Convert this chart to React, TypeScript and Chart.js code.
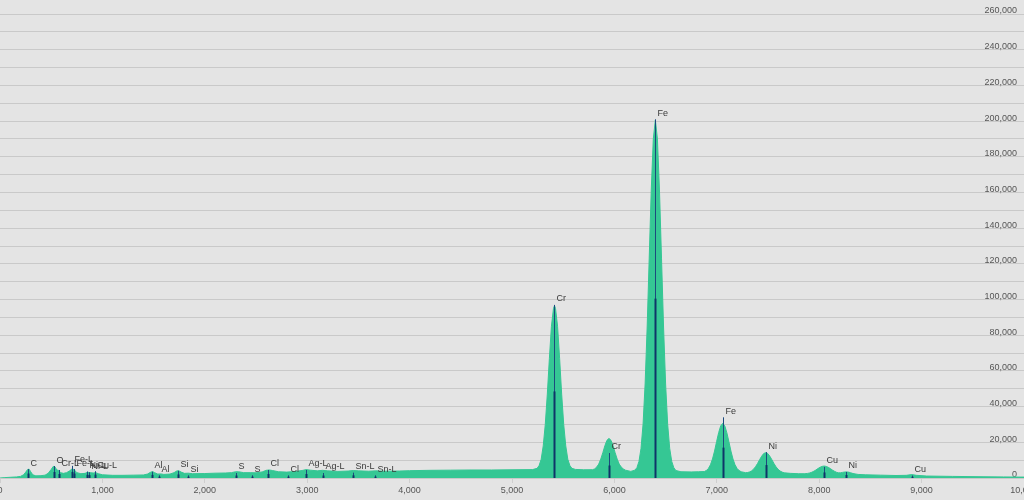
import React, { useEffect, useRef } from "react";
import { Chart, registerables } from "chart.js";

Chart.register(...registerables);

// Spectrum readings: [energy (eV), counts]
const lowEnergySpectrum: [number, number][] = [
  [0, 0], [40, 200], [100, 400], [160, 600], [200, 900], [230, 1800], [250, 3200], [270, 4800],
  [285, 4900], [300, 3500], [320, 1800], [350, 1200], [400, 1300], [440, 1600], [470, 2600],
  [500, 4800], [520, 6500], [535, 6400], [555, 4500], [575, 4200], [590, 3000], [620, 2600],
  [650, 3000], [680, 4000], [705, 5200], [725, 4600], [750, 3000], [790, 2400], [830, 2600],
  [855, 3200], [880, 3000], [910, 2800], [935, 3000], [960, 2400], [1000, 1800], [1100, 1500],
  [1200, 1500], [1300, 1600], [1400, 1700], [1440, 2200], [1470, 3200], [1490, 3600], [1510, 3000],
  [1540, 2200], [1570, 2300], [1600, 2000], [1660, 2200], [1700, 3000], [1725, 3900], [1745, 4100],
  [1770, 3300], [1800, 2600], [1840, 2700], [1880, 2400], [2000, 2500], [2100, 2700], [2200, 2800],
  [2260, 3000], [2300, 3500], [2330, 3500], [2380, 3000], [2450, 3000], [2500, 2900], [2560, 3400],
  [2600, 4300], [2630, 4500], [2660, 4200], [2720, 3500], [2800, 3300], [2880, 3600], [2950, 4200],
  [2990, 4700], [3030, 4400], [3100, 4000], [3150, 4300], [3200, 4000], [3300, 3700], [3400, 3900],
  [3450, 4200], [3500, 4000], [3600, 3800], [3670, 4000], [3750, 3800], [3900, 3900], [4000, 4100],
  [4200, 4300], [4400, 4400], [4600, 4500], [4800, 4500], [5000, 4600], [5200, 4700],
];

const crSpectrum: [number, number][] = [
  [5245, 5400], [5265, 7000], [5285, 10500], [5305, 18000], [5325, 30000], [5345, 47000],
  [5365, 67000], [5385, 85000], [5405, 95000], [5415, 96600], [5425, 95000], [5445, 85000],
  [5465, 67000], [5485, 47000], [5505, 30000], [5525, 18000], [5545, 10500], [5565, 7000],
  [5585, 5400], [5620, 4800], [5700, 4600], [5787, 4650], [5807, 5100], [5827, 6100],
  [5847, 7800], [5867, 10600], [5887, 14200], [5907, 18100], [5927, 21100], [5947, 22200],
  [5967, 21100], [5987, 18100], [6007, 14200], [6027, 10600], [6047, 7800], [6067, 6100],
  [6087, 5100], [6107, 4400], [6160, 3700],
];

const feSpectrum: [number, number][] = [
  [6200, 4400], [6220, 5800], [6240, 9300], [6260, 16600], [6280, 30200], [6300, 52700],
  [6320, 84600], [6340, 123200], [6360, 161400], [6380, 190000], [6400, 200600], [6420, 190000],
  [6440, 161400], [6460, 123200], [6480, 84600], [6500, 52700], [6520, 30200], [6540, 16600],
  [6560, 9300], [6580, 5800], [6600, 4200], [6650, 3500], [6750, 3400], [6820, 3500],
  [6878, 3600], [6898, 4200], [6918, 5350], [6938, 7400], [6958, 10650], [6978, 15100],
  [6998, 20400], [7018, 25400], [7038, 29200], [7058, 30600], [7078, 29200], [7098, 25400],
  [7118, 20400], [7138, 15100], [7158, 10650], [7178, 7400], [7198, 5350], [7218, 4200],
  [7238, 3500], [7280, 3000],
];

const highEnergySpectrum: [number, number][] = [
  [7298, 3050], [7318, 3350], [7338, 3920], [7358, 4880], [7378, 6300], [7398, 8150],
  [7418, 10250], [7438, 12200], [7458, 13700], [7478, 14200], [7498, 13700], [7518, 12200],
  [7538, 10250], [7558, 8150], [7578, 6300], [7598, 4880], [7618, 3920], [7638, 3300],
  [7658, 2900], [7720, 2600], [7800, 2400], [7860, 2400], [7888, 2580], [7908, 2830],
  [7928, 3230], [7948, 3800], [7968, 4500], [7988, 5300], [8008, 6000], [8028, 6500],
  [8048, 6700], [8068, 6500], [8088, 6000], [8108, 5300], [8128, 4500], [8148, 3800],
  [8168, 3230], [8188, 2900], [8208, 2900], [8228, 3150], [8248, 3350], [8265, 3400],
  [8285, 3300], [8305, 3000], [8330, 2500], [8380, 2000], [8450, 1800], [8600, 1600],
  [8750, 1400], [8850, 1500], [8905, 1900], [8950, 1500], [9050, 1100], [9300, 900],
  [9600, 700], [9800, 600], [10000, 500],
];

// Element line markers
const markerLabels = [
  "C", "O", "Cr-L", "Fe-L", "Fe-L", "Ni-L", "Ni-L", "Cu-L",
  "Al", "Al", "Si", "Si", "S", "S", "Cl", "Cl", "Ag-L", "Ag-L", "Sn-L", "Sn-L",
  "Cr", "Cr", "Fe", "Fe", "Ni", "Cu", "Ni", "Cu",
];
const markerEnergies = [
  277, 525, 573, 705, 718, 851, 868, 930,
  1487, 1557, 1740, 1836, 2307, 2464, 2622, 2815, 2984, 3151, 3444, 3663,
  5415, 5947, 6400, 7058, 7478, 8048, 8265, 8905,
];
const markerHeights = [
  5000, 6700, 4500, 6800, 5000, 3600, 3200, 3800,
  3500, 1500, 4000, 1500, 2800, 1500, 4500, 1500, 4500, 2800, 3000, 1500,
  97000, 14000, 201000, 34000, 14500, 6200, 3400, 1400,
];

const xTicksMax = 10000;
const yTicksMax = 260000;

const fmt = (v: number) => Math.round(v).toLocaleString("en-US");

const FONT = '"Liberation Sans", Arial, sans-serif';

const backgroundPlugin = {
  id: "bgFill",
  beforeDraw(chart: any) {
    const { ctx, width, height } = chart;
    ctx.save();
    ctx.fillStyle = "#e4e4e4";
    ctx.fillRect(0, 0, width, height);
    ctx.restore();
  },
};

const markerPlugin = {
  id: "markers",
  afterDatasetsDraw(chart: any) {
    const { ctx } = chart;
    const x = chart.scales.x;
    const y = chart.scales.y;
    const y0 = y.getPixelForValue(0);
    ctx.save();
    markerEnergies.forEach((e, i) => {
      const px = Math.round(x.getPixelForValue(e)) + 0.5;
      const top = y.getPixelForValue(markerHeights[i]);
      const half = y.getPixelForValue(markerHeights[i] / 2);
      ctx.strokeStyle = "#1c4a7e";
      ctx.lineWidth = 1;
      ctx.beginPath();
      ctx.moveTo(px, y0);
      ctx.lineTo(px, top);
      ctx.stroke();
      ctx.strokeStyle = "#0f3468";
      ctx.lineWidth = 2;
      ctx.beginPath();
      ctx.moveTo(px, y0);
      ctx.lineTo(px, half);
      ctx.stroke();
      ctx.fillStyle = "#3a3a3a";
      ctx.font = `9px ${FONT}`;
      ctx.textAlign = "left";
      ctx.textBaseline = "middle";
      ctx.fillText(markerLabels[i], px + 2, top - 6);
    });
    ctx.restore();
  },
};

export default function App() {
  const canvasRef = useRef<HTMLCanvasElement | null>(null);

  useEffect(() => {
    document.body.style.margin = "0";
    const canvas = canvasRef.current;
    if (!canvas) return;
    const points = [
      ...lowEnergySpectrum,
      ...crSpectrum,
      ...feSpectrum,
      ...highEnergySpectrum,
    ].map(([x, y]) => ({ x, y }));

    const chart = new Chart(canvas, {
      type: "line",
      data: {
        datasets: [
          {
            data: points,
            fill: "origin",
            backgroundColor: "#35c794",
            borderColor: "#35c794",
            borderWidth: 1,
            pointRadius: 0,
            tension: 0,
          },
        ],
      },
      options: {
        animation: false,
        responsive: false,
        layout: { padding: { top: 14, left: 0, right: 0, bottom: 0 } },
        plugins: {
          legend: { display: false },
          tooltip: { enabled: false },
          title: { display: false },
        },
        scales: {
          x: {
            type: "linear",
            min: 0,
            max: xTicksMax,
            grid: {
              drawOnChartArea: false,
              drawTicks: true,
              tickLength: 5,
              color: "#cfcfcf",
            },
            border: { display: false },
            ticks: {
              stepSize: 1000,
              autoSkip: false,
              maxRotation: 0,
              padding: 2,
              color: "#555",
              font: { size: 9, family: FONT },
              callback: (v: any) => fmt(Number(v)),
            },
            afterFit: (scale: any) => {
              scale.height = 22;
              scale.paddingLeft = 0;
              scale.paddingRight = 0;
            },
          },
          y: {
            position: "right",
            min: 0,
            max: yTicksMax,
            grid: {
              drawTicks: false,
              color: "#c9c9c9",
              lineWidth: 1,
            },
            border: { display: false },
            ticks: {
              mirror: true,
              stepSize: 10000,
              autoSkip: false,
              padding: -7,
              labelOffset: -3,
              color: "#555",
              font: { size: 9, family: FONT },
              callback: (v: any) => (Number(v) % 20000 === 0 ? fmt(Number(v)) : ""),
            },
            afterFit: (scale: any) => {
              scale.width = 0;
              scale.paddingTop = 0;
              scale.paddingBottom = 0;
            },
          },
        },
      },
      plugins: [backgroundPlugin, markerPlugin],
    });
    return () => chart.destroy();
  }, []);

  return (
    <div style={{ width: 1024, height: 500 }}>
      <canvas ref={canvasRef} width={1024} height={500} style={{ display: "block" }} />
    </div>
  );
}
